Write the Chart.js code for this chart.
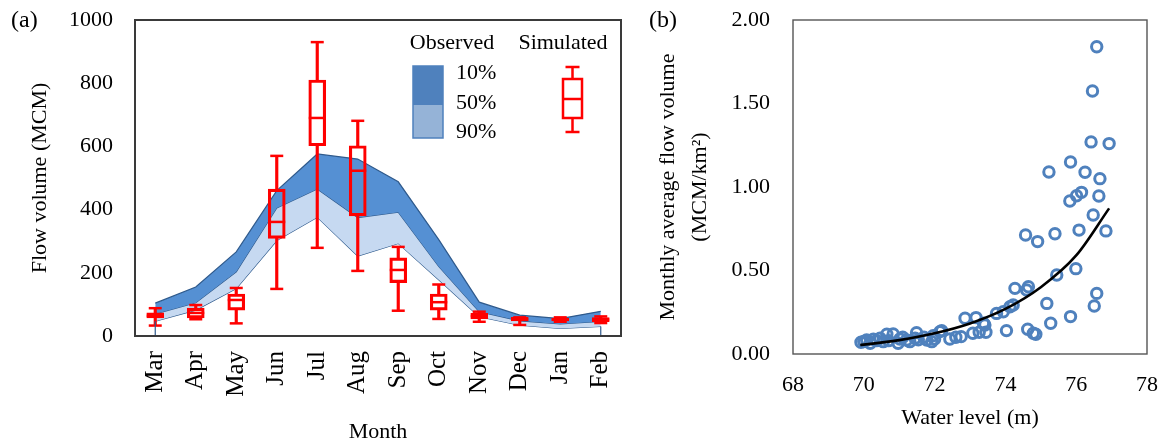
<!DOCTYPE html>
<html>
<head>
<meta charset="utf-8">
<title>Flow volume</title>
<script src="https://cdn.jsdelivr.net/npm/chart.js@4.4.1/dist/chart.umd.min.js"></script>
<style>
    body { margin: 0; background: #fff; }
    #page { position: relative; width: 1166px; height: 446px; overflow: hidden; font-family: "Liberation Serif", "Times New Roman", serif; }
    #wrapA { position: absolute; left: 0; top: 0; width: 640px; height: 446px; }
    #wrapB { position: absolute; left: 640px; top: 0; width: 526px; height: 446px; }
    .tag { position: absolute; top: 6px; font-size: 24px; color: #000; }
</style>
</head>
<body>
<div id="page">
    <div id="wrapA"><canvas id="chartA"></canvas></div>
    <div id="wrapB"><canvas id="chartB"></canvas></div>
    <div class="tag" style="left:11px">(a)</div>
    <div class="tag" style="left:649px">(b)</div>
</div>
<script>
// Panel (a): observed exceedance bands and simulated box plots
const months = ['Mar', 'Apr', 'May', 'Jun', 'Jul', 'Aug', 'Sep', 'Oct', 'Nov', 'Dec', 'Jan', 'Feb'];
const obs10 = [104, 155, 266, 460, 576, 560, 488, 305, 107, 66, 55, 78];
const obs50 = [70, 105, 203, 405, 465, 375, 392, 220, 77, 48, 38, 46];
const obs90 = [47, 82, 150, 302, 376, 253, 293, 178, 61, 34, 24, 30];

const simMin = [33, 53, 40, 149, 279, 206, 80, 54, 45, 35, 45, 41];
const simQ1 = [57, 57, 82, 309, 602, 380, 169, 82, 54, 48, 48, 45];
const simMed = [64, 73, 114, 361, 690, 523, 209, 107, 63, 53, 52, 52];
const simQ3 = [73, 88, 133, 465, 810, 602, 247, 133, 72, 59, 56, 58];
const simMax = [88, 98, 152, 570, 930, 681, 282, 163, 77, 59, 59, 62];
const flowTicks = [0, 200, 400, 600, 800, 1000];

// Panel (b): water level vs monthly flow per area
const levelPts = [
    [76.58, 1.84], [76.46, 1.575], [76.42, 1.27], [76.93, 1.26], [75.84, 1.15], [75.23, 1.09],
    [76.25, 1.088], [76.67, 1.05], [76.15, 0.968], [76.01, 0.948], [75.82, 0.916], [76.64, 0.946],
    [76.48, 0.832], [74.57, 0.713], [74.91, 0.673], [75.40, 0.72], [76.08, 0.742], [76.84, 0.737],
    [75.99, 0.511], [75.45, 0.473], [74.27, 0.393], [74.65, 0.403], [74.60, 0.383], [76.58, 0.363],
    [76.51, 0.287], [75.17, 0.303], [74.13, 0.283], [73.75, 0.243], [73.94, 0.253], [72.86, 0.214],
    [73.17, 0.218], [73.38, 0.184], [75.84, 0.224], [75.28, 0.184], [74.03, 0.14], [74.63, 0.148],
    [74.86, 0.118], [73.45, 0.13], [73.26, 0.13], [73.08, 0.124], [72.75, 0.104], [72.43, 0.09],
    [72.20, 0.14], [71.96, 0.11], [71.78, 0.084], [71.49, 0.128], [71.45, 0.094], [71.21, 0.084],
    [70.83, 0.12], [70.65, 0.118], [70.46, 0.094], [70.27, 0.088], [70.08, 0.084], [69.92, 0.07],
    [70.18, 0.064], [70.97, 0.064], [71.30, 0.074], [71.92, 0.074], [70.36, 0.08], [70.55, 0.074],
    [71.02, 0.09], [71.54, 0.085], [72.15, 0.134], [73.42, 0.174], [74.22, 0.293], [70.00, 0.075],
    [70.70, 0.08], [71.10, 0.10], [71.70, 0.10], [72.60, 0.10], [72.00, 0.09], [74.79, 0.124]
];
const trendX = [69.9, 70, 71, 72, 73, 74, 75, 76, 76.93];
const trendY = [0.054, 0.056, 0.083, 0.124, 0.183, 0.27, 0.40, 0.59, 0.872];

const RED = '#ff0000';
const BAND_DARK = '#5590d3';
const BAND_LIGHT = '#c6d9f1';
const BAND_EDGE = '#2f5a8c';
const DOT = '#4f81bd';
const FONT = 'Liberation Serif';

Chart.defaults.font.family = FONT;
Chart.defaults.color = '#000';

// keep the plot area where the layout padding puts it
function noEdgePad(s) {
    s.paddingTop = 0;
    s.paddingBottom = 0;
    s.paddingLeft = 0;
    s.paddingRight = 0;
}

// frame around the plot area + the end edges of the lowest area
const frame = {
    id: 'frame',
    afterDatasetsDraw(chart, args, opts) {
        const { ctx, chartArea: a } = chart;
        ctx.save();
        if (opts.edges) {
            const x = chart.scales.x, y = chart.scales.y;
            ctx.strokeStyle = BAND_EDGE;
            ctx.lineWidth = 1.2;
            [0, obs90.length - 1].forEach(i => {
                ctx.beginPath();
                ctx.moveTo(x.getPixelForValue(i), y.getPixelForValue(obs90[i]));
                ctx.lineTo(x.getPixelForValue(i), y.getPixelForValue(0));
                ctx.stroke();
            });
        }
        ctx.strokeStyle = opts.color;
        ctx.lineWidth = opts.width;
        ctx.strokeRect(a.left, a.top, a.right - a.left, a.bottom - a.top);
        ctx.restore();
    }
};

// legend for panel (a)
const legendA = {
    id: 'legendA',
    afterDraw(chart) {
        const ctx = chart.ctx;
        ctx.save();
        ctx.font = '22px "' + FONT + '"';
        ctx.fillStyle = '#000';
        ctx.textBaseline = 'middle';
        ctx.textAlign = 'center';
        ctx.fillText('Observed', 452, 43);
        ctx.fillText('Simulated', 563, 43);
        ctx.textAlign = 'left';
        ctx.fillText('10%', 456, 73);
        ctx.fillText('50%', 456, 103);
        ctx.fillText('90%', 456, 132);

        ctx.fillStyle = '#4f81bd';
        ctx.fillRect(413, 66, 30, 39);
        ctx.fillStyle = '#95b3d7';
        ctx.fillRect(413, 105, 30, 33);
        ctx.strokeStyle = '#4f81bd';
        ctx.lineWidth = 1.5;
        ctx.strokeRect(413, 66, 30, 72);

        // box sample
        ctx.strokeStyle = RED;
        ctx.lineWidth = 2.5;
        const cx = 572.5;
        ctx.beginPath();
        ctx.moveTo(cx - 7, 67); ctx.lineTo(cx + 7, 67);
        ctx.moveTo(cx, 67); ctx.lineTo(cx, 79);
        ctx.moveTo(cx - 10, 99); ctx.lineTo(cx + 10, 99);
        ctx.moveTo(cx, 118); ctx.lineTo(cx, 132);
        ctx.moveTo(cx - 7, 132); ctx.lineTo(cx + 7, 132);
        ctx.stroke();
        ctx.strokeRect(cx - 9.5, 79, 19, 39);
        ctx.restore();
    }
};

const bandStyle = { borderColor: BAND_EDGE, borderWidth: 1.2, pointRadius: 0, tension: 0, order: 10 };
const capStyle = { type: 'line', showLine: false, pointStyle: 'line', pointBorderColor: RED, pointBorderWidth: 2.5, order: 1 };

new Chart(document.getElementById('chartA'), {
    type: 'line',
    data: {
        labels: months,
        datasets: [
            { ...bandStyle, label: '10%', data: obs10, fill: '+1', backgroundColor: BAND_DARK },
            { ...bandStyle, label: '50%', data: obs50, fill: '+1', backgroundColor: BAND_LIGHT },
            { ...bandStyle, label: '90%', data: obs90, fill: false },
            { type: 'bar', label: 'lower whisker', data: simMin.map((v, i) => [v, simQ1[i]]),
              backgroundColor: RED, barThickness: 2.5, grouped: false, order: 3 },
            { type: 'bar', label: 'upper whisker', data: simQ3.map((v, i) => [v, simMax[i]]),
              backgroundColor: RED, barThickness: 2.5, grouped: false, order: 3 },
            { type: 'bar', label: 'box', data: simQ1.map((v, i) => [v, simQ3[i]]),
              backgroundColor: 'rgba(0,0,0,0)', borderColor: RED, borderWidth: 2.5, borderSkipped: false,
              barThickness: 17, grouped: false, order: 2 },
            { ...capStyle, label: 'max', data: simMax, pointRadius: 6.5 },
            { ...capStyle, label: 'min', data: simMin, pointRadius: 6.5 },
            { ...capStyle, label: 'median', data: simMed, pointRadius: 8.5 }
        ]
    },
    options: {
        responsive: true,
        maintainAspectRatio: false,
        animation: false,
        layout: { padding: { top: 20, right: 19 } },
        plugins: {
            legend: { display: false },
            tooltip: { enabled: false },
            frame: { color: '#3a3a3a', width: 2, edges: true }
        },
        scales: {
            x: {
                type: 'category',
                offset: true,
                grid: { display: false, drawTicks: false },
                border: { display: false },
                ticks: { minRotation: 90, maxRotation: 90, padding: 15, font: { size: 25 } },
                title: { display: true, text: 'Month', font: { size: 22 }, padding: { top: 0, bottom: 1 } },
                afterFit: s => { s.height = 110; noEdgePad(s); }
            },
            y: {
                min: 0,
                max: 1000,
                grid: { display: false, drawTicks: false },
                border: { display: false },
                afterBuildTicks: s => { s.ticks = flowTicks.map(v => ({ value: v })); },
                ticks: { padding: 22, font: { size: 22 }, callback: v => String(v) },
                title: { display: true, text: 'Flow volume (MCM)', font: { size: 22 }, padding: { top: 27, bottom: 0 } },
                afterFit: s => { s.width = 135; noEdgePad(s); }
            }
        }
    },
    plugins: [frame, legendA]
});

new Chart(document.getElementById('chartB'), {
    type: 'scatter',
    data: {
        datasets: [
            { label: 'fit', type: 'line', data: trendX.map((x, i) => ({ x, y: trendY[i] })),
              borderColor: '#000', borderWidth: 2.6, pointRadius: 0, cubicInterpolationMode: 'monotone', order: 0 },
            { label: 'observed', data: levelPts.map(p => ({ x: p[0], y: p[1] })),
              pointRadius: 5.2, pointBorderWidth: 3, pointBorderColor: DOT, pointBackgroundColor: 'rgba(0,0,0,0)', order: 1 }
        ]
    },
    options: {
        responsive: true,
        maintainAspectRatio: false,
        animation: false,
        layout: { padding: { top: 20, right: 19 } },
        plugins: {
            legend: { display: false },
            tooltip: { enabled: false },
            frame: { color: '#555', width: 1.4, edges: false }
        },
        scales: {
            x: {
                type: 'linear',
                min: 68,
                max: 78,
                grid: { display: false, drawTicks: false },
                border: { display: false },
                ticks: { stepSize: 2, padding: 18, font: { size: 22 } },
                title: { display: true, text: 'Water level (m)', font: { size: 22 }, padding: { top: 0, bottom: 15 } },
                afterFit: s => { s.height = 92; noEdgePad(s); }
            },
            y: {
                min: 0,
                max: 2,
                grid: { display: false, drawTicks: false },
                border: { display: false },
                ticks: { stepSize: 0.5, padding: 23, font: { size: 22 }, callback: v => v.toFixed(2) },
                title: { display: true, text: ['Monthly average flow volume', '(MCM/km²)'],
                         font: { size: 22, lineHeight: 1.45 }, padding: { top: 12, bottom: 0 } },
                afterFit: s => { s.width = 153; noEdgePad(s); }
            }
        }
    },
    plugins: [frame]
});
</script>
</body>
</html>
